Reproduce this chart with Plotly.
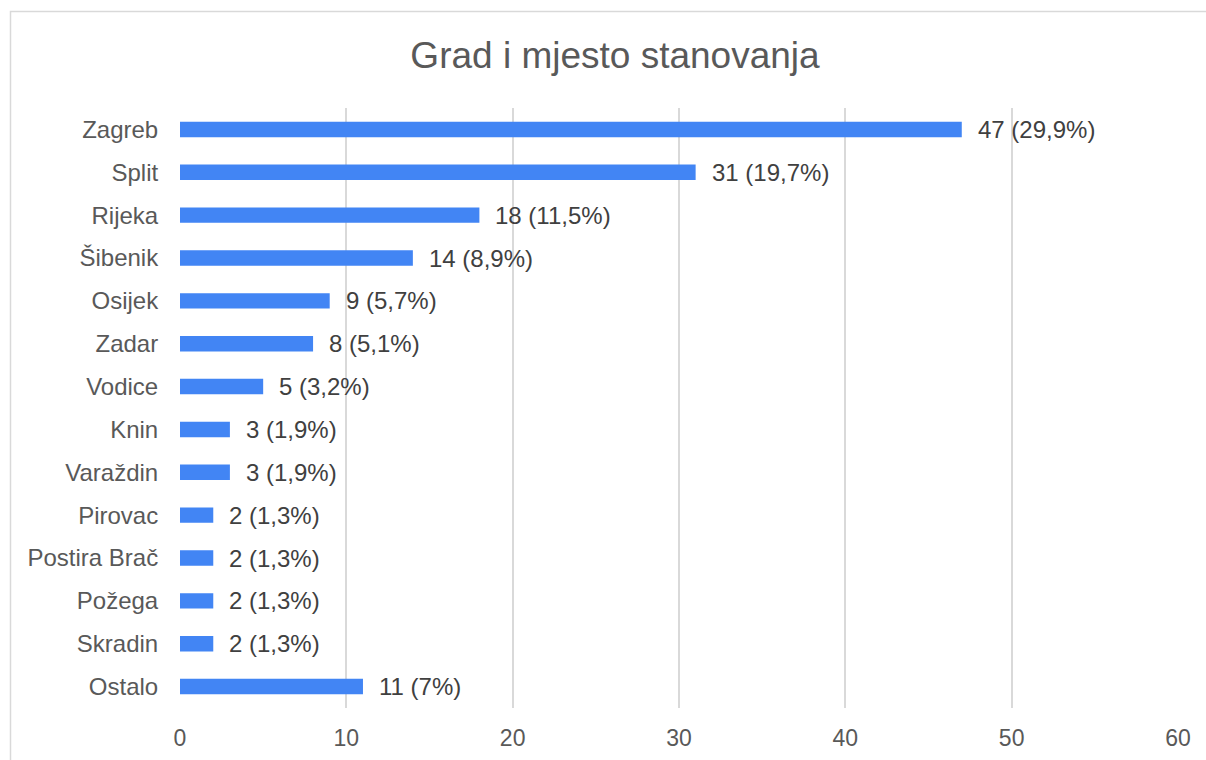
import plotly.graph_objects as go

categories = ["Zagreb", "Split", "Rijeka", "Šibenik", "Osijek", "Zadar", "Vodice",
              "Knin", "Varaždin", "Pirovac", "Postira Brač", "Požega", "Skradin", "Ostalo"]
counts = [47, 31, 18, 14, 9, 8, 5, 3, 3, 2, 2, 2, 2, 11]
labels = ["47 (29,9%)", "31 (19,7%)", "18 (11,5%)", "14 (8,9%)", "9 (5,7%)", "8 (5,1%)",
          "5 (3,2%)", "3 (1,9%)", "3 (1,9%)", "2 (1,3%)", "2 (1,3%)", "2 (1,3%)",
          "2 (1,3%)", "11 (7%)"]
x_ticks = [0, 10, 20, 30, 40, 50, 60]

W, H = 1206, 760
L, R, T, B = 180, 28, 108, 52
FONT = "Liberation Sans, Arial, sans-serif"

fig = go.Figure()
fig.add_trace(go.Bar(
    x=counts, y=categories, orientation="h",
    marker=dict(color="#4285F4", line=dict(width=0)),
    hoverinfo="skip",
))

for c, v, t in zip(categories, counts, labels):
    fig.add_annotation(x=v, y=c, text=t, showarrow=False, xanchor="left",
                       xshift=14, font=dict(family=FONT, size=24, color="#404040"))

pw = W - L - R
ph = H - T - B
fig.add_shape(type="rect", xref="paper", yref="paper",
              x0=(10.5 - L) / pw, x1=(W + 40 - L) / pw,
              y0=-100 / ph, y1=(H - B - 11.5) / ph,
              line=dict(color="#d9d9d9", width=1.5), layer="below")

fig.update_layout(
    width=W, height=H,
    margin=dict(l=L, r=R, t=T, b=B, autoexpand=False),
    paper_bgcolor="white", plot_bgcolor="white",
    bargap=0.64,
    showlegend=False,
    title=dict(text="Grad i mjesto stanovanja", x=615 / W, xanchor="center",
               y=1 - 55 / H, yanchor="middle",
               font=dict(family=FONT, size=37, color="#595959")),
    xaxis=dict(range=[0, 60], tickvals=x_ticks, showgrid=True, gridcolor="#d9d9d9",
               gridwidth=1.5, zeroline=False, showline=False, automargin=False,
               ticks="outside", ticklen=9, tickcolor="rgba(0,0,0,0)",
               tickfont=dict(family=FONT, size=23, color="#595959"), fixedrange=True),
    yaxis=dict(autorange="reversed", showgrid=False, zeroline=False, showline=False,
               automargin=False,
               ticks="outside", ticklen=16, tickcolor="rgba(0,0,0,0)",
               tickfont=dict(family=FONT, size=24, color="#595959"), fixedrange=True),
    font=dict(family=FONT),
)

fig.write_html(
    "out.html",
    config={"displayModeBar": False},
    post_script="document.body.style.margin='0';document.body.style.overflow='hidden';",
)
